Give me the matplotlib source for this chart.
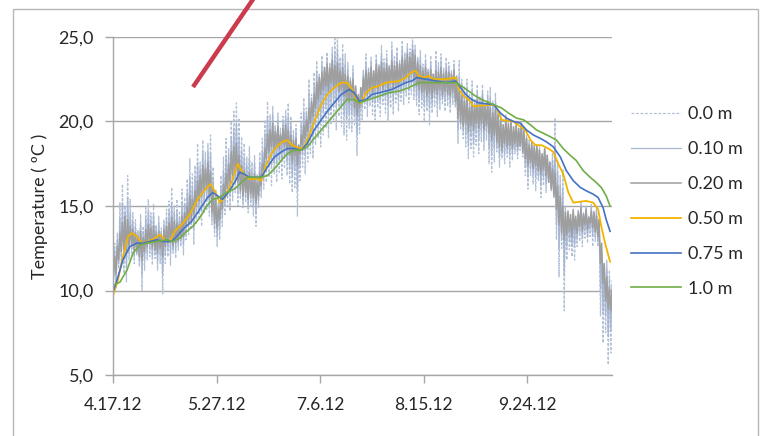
import datetime as dt
import matplotlib
matplotlib.use("Agg")
import matplotlib.pyplot as plt
from matplotlib.lines import Line2D
from matplotlib.patches import Rectangle
from matplotlib.ticker import FuncFormatter

plt.rcParams['font.family'] = ['Lato', 'DejaVu Sans']

# ---------------------------------------------------------------- data
START = "4.17.12"
tick_labels = ["4.17.12", "5.27.12", "7.6.12", "8.15.12", "9.24.12"]
y_ticks = [5, 10, 15, 20, 25]
series_names = ["0.0 m", "0.10 m", "0.20 m", "0.50 m", "0.75 m", "1.0 m"]
y_label = "Temperature ( ºC )"

# daily maxima / minima, one value per day starting 4.17.12
surf_max = [
    12.8, 13.4, 15.2, 16.3, 15.0, 16.8, 15.4, 14.6, 14.2, 13.6,
    14.5, 13.8, 14.9, 15.4, 14.6, 15.1, 13.9, 14.4, 13.7, 14.2,
    14.8, 15.3, 16.1, 15.0, 15.4, 14.7, 16.0, 15.5, 16.6, 17.8,
    16.9, 17.4, 18.7, 17.6, 18.9, 18.2, 18.7, 19.2, 17.3, 16.0,
    15.2, 16.8, 17.9, 19.0, 18.4, 20.0, 20.6, 21.1, 20.2, 19.1,
    18.7, 17.9, 18.5, 17.6, 18.0, 16.9, 18.2, 19.0, 20.1, 21.2,
    20.4, 20.9, 19.8, 20.5, 19.6, 20.3, 20.7, 21.1, 20.3, 19.5,
    19.8, 18.6, 20.5, 21.4, 20.8, 22.5, 21.6, 22.9, 23.6, 22.8,
    23.9, 23.2, 24.1, 23.5, 24.4, 24.9, 25.0, 23.8, 24.6, 24.0,
    23.5, 22.6, 23.3, 22.0, 21.4, 22.0, 23.1, 24.0, 23.2, 23.8,
    22.9, 24.0, 23.4, 24.5, 23.7, 24.2, 23.3, 24.7, 23.9, 24.4,
    23.6, 24.8, 24.1, 24.6, 24.3, 25.0, 24.5, 23.8, 24.2, 23.4,
    24.0, 23.1, 23.9, 22.8, 24.2, 23.5, 24.0, 23.2, 23.8, 23.5,
    23.0, 23.6, 22.7, 23.6, 22.5, 22.1, 22.5, 21.6, 22.4, 21.3,
    22.2, 21.5, 22.2, 21.0, 21.8, 22.0, 21.2, 21.7, 20.6, 20.4,
    19.8, 20.4, 19.6, 20.1, 19.3, 19.5, 19.0, 19.7, 18.8, 19.2,
    18.9, 18.4, 18.7, 18.2, 18.5, 17.9, 18.3, 18.0, 17.6, 18.1,
    20.2, 17.7, 16.8, 17.2, 15.0, 14.3, 13.6, 14.1, 13.8, 14.8,
    15.2, 14.6, 15.0, 14.4, 15.1, 14.7, 14.9, 14.2, 11.8, 11.4,
    11.8, 11.2, 10.6,
]
surf_min = [
    10.6, 10.2, 11.3, 11.6, 11.0, 10.5, 11.8, 12.0, 11.6, 12.1,
    11.4, 10.0, 11.2, 11.8, 12.0, 11.5, 11.9, 11.2, 11.6, 9.8,
    11.6, 12.0, 11.5, 12.2, 11.9, 12.4, 12.6, 12.1, 13.0, 13.3,
    13.6, 12.7, 13.9, 14.2, 13.8, 14.6, 14.8, 14.4, 13.9, 13.2,
    12.6, 13.0, 13.8, 14.5, 15.0, 14.7, 15.3, 15.8, 15.0, 15.4,
    14.9, 15.2, 14.6, 15.0, 14.4, 13.8, 14.9, 15.5, 16.0, 16.4,
    16.7, 16.2, 16.9, 16.4, 17.0, 16.6, 17.2, 16.8, 16.3, 15.8,
    16.1, 14.4, 16.5, 17.3, 16.9, 17.6, 18.1, 17.8, 18.6, 19.0,
    18.5, 19.2, 19.6, 19.0, 19.8, 20.1, 19.5, 20.3, 19.7, 19.2,
    18.9, 19.6, 19.4, 19.8, 18.0, 19.3, 20.1, 20.7, 20.3, 20.9,
    20.4, 20.1, 20.8, 20.3, 21.0, 20.5, 20.0, 20.8, 20.4, 21.1,
    20.6, 21.2, 21.0, 21.5, 21.1, 21.6, 21.3, 20.9, 20.4, 20.8,
    20.0, 20.6, 19.8, 20.5, 20.9, 20.3, 20.7, 21.0, 20.6, 20.9,
    20.5, 21.0, 20.8, 18.7, 19.5, 19.0, 18.5, 17.8, 18.4, 17.9,
    18.6, 18.1, 18.8, 18.3, 18.9, 17.5, 17.0, 17.6, 18.2, 17.3,
    17.8, 17.5, 17.9, 17.3, 17.7, 18.1, 17.8, 18.3, 17.9, 16.8,
    16.0, 16.8, 16.3, 15.9, 16.5, 15.5, 16.2, 15.8, 16.4, 15.9,
    15.5, 13.0, 10.8, 12.5, 8.8, 11.8, 12.4, 12.0, 11.8, 12.6,
    12.9, 12.6, 13.1, 12.8, 13.2, 12.6, 12.9, 12.6, 8.5, 6.9,
    7.5, 5.6, 6.3,
]
d010_max = [
    12.4, 13.0, 14.3, 15.2, 14.7, 15.5, 14.6, 14.1, 13.8, 13.4,
    14.0, 13.5, 14.3, 14.7, 14.2, 14.5, 13.7, 14.0, 13.5, 13.9,
    14.3, 14.7, 15.2, 14.6, 14.7, 14.3, 15.2, 15.1, 15.8, 16.7,
    16.2, 16.7, 17.6, 17.2, 18.2, 17.7, 18.2, 18.1, 16.7, 15.7,
    15.1, 16.2, 17.1, 18.0, 18.0, 19.1, 19.6, 19.9, 19.1, 18.3,
    17.9, 17.4, 17.8, 17.1, 17.5, 16.7, 17.6, 18.3, 19.3, 20.3,
    20.0, 20.4, 19.6, 20.1, 19.4, 20.0, 20.3, 20.3, 19.8, 19.2,
    19.4, 18.6, 19.9, 20.6, 20.5, 21.7, 21.4, 22.3, 23.0, 22.7,
    23.4, 23.2, 23.8, 23.4, 24.0, 24.1, 24.3, 23.4, 23.9, 23.4,
    23.1, 22.5, 22.9, 22.1, 21.5, 22.0, 22.9, 23.5, 23.1, 23.5,
    23.0, 23.7, 23.3, 24.0, 23.4, 23.8, 23.3, 24.2, 23.6, 24.0,
    23.5, 24.3, 23.9, 24.3, 24.1, 24.6, 24.2, 23.7, 23.8, 23.2,
    23.6, 23.0, 23.5, 22.8, 23.6, 23.2, 23.6, 23.0, 23.4, 23.2,
    22.9, 23.3, 22.7, 22.7, 22.0, 21.7, 22.0, 21.2, 21.8, 21.1,
    21.8, 21.3, 21.8, 21.0, 21.5, 21.4, 20.9, 21.2, 20.5, 20.3,
    19.8, 20.3, 19.8, 20.1, 19.5, 19.7, 19.3, 19.8, 19.2, 19.1,
    18.8, 18.6, 18.6, 18.4, 18.4, 18.0, 18.4, 18.0, 17.6, 17.7,
    18.6, 17.0, 16.2, 16.1, 14.8, 14.5, 14.1, 14.5, 14.1, 14.7,
    15.1, 14.6, 14.9, 14.4, 14.9, 14.7, 14.7, 14.2, 12.3, 11.5,
    11.3, 10.7, 10.3,
]
d010_min = [
    10.7, 10.6, 11.6, 12.0, 11.8, 11.4, 12.2, 12.4, 12.0, 12.2,
    11.7, 10.9, 11.8, 12.2, 12.4, 12.0, 12.2, 11.7, 12.1, 10.9,
    12.1, 12.4, 12.2, 12.4, 12.4, 12.7, 12.9, 12.7, 13.4, 13.7,
    13.9, 13.6, 14.5, 14.8, 14.7, 15.3, 15.4, 15.0, 14.3, 13.6,
    13.2, 13.6, 14.3, 15.0, 15.5, 15.6, 16.1, 16.4, 15.7, 15.7,
    15.3, 15.5, 15.0, 15.4, 15.0, 14.5, 15.3, 15.9, 16.6, 17.1,
    17.5, 17.4, 17.6, 17.5, 17.7, 17.7, 17.9, 17.6, 17.2, 16.7,
    17.1, 15.9, 17.3, 18.0, 18.0, 18.5, 19.0, 19.1, 19.7, 20.2,
    20.1, 20.6, 20.9, 20.4, 21.1, 21.1, 20.9, 21.1, 20.8, 20.4,
    20.1, 20.4, 20.4, 20.3, 19.2, 20.1, 20.8, 21.2, 21.0, 21.4,
    21.1, 21.1, 21.3, 21.2, 21.5, 21.4, 21.0, 21.6, 21.2, 21.7,
    21.4, 21.8, 21.7, 22.1, 21.8, 22.2, 21.9, 21.5, 21.2, 21.3,
    20.9, 21.1, 20.8, 21.0, 21.4, 21.0, 21.3, 21.3, 21.2, 21.3,
    21.0, 21.4, 21.0, 19.5, 19.8, 19.4, 19.2, 18.6, 19.1, 18.7,
    19.3, 18.9, 19.4, 18.9, 19.4, 18.4, 18.0, 18.4, 18.5, 17.9,
    18.1, 18.1, 18.2, 18.0, 18.1, 18.4, 18.2, 18.5, 18.1, 17.3,
    16.7, 17.2, 16.8, 16.7, 16.8, 16.2, 16.7, 16.3, 16.4, 16.0,
    15.6, 13.9, 12.4, 13.0, 10.9, 12.6, 13.0, 12.6, 12.7, 13.0,
    13.4, 13.1, 13.5, 13.2, 13.6, 13.2, 13.2, 12.9, 10.1, 8.7,
    8.5, 7.3, 7.6,
]
d020_max = [
    12.0, 12.6, 13.4, 14.0, 14.4, 14.2, 13.8, 13.6, 13.4, 13.2,
    13.5, 13.1, 13.6, 13.9, 13.7, 13.8, 13.4, 13.5, 13.3, 13.6,
    13.8, 14.0, 14.3, 14.1, 14.0, 13.9, 14.4, 14.6, 15.0, 15.6,
    15.4, 15.9, 16.5, 16.8, 17.4, 17.2, 17.6, 17.0, 16.0, 15.4,
    14.9, 15.6, 16.3, 16.9, 17.5, 18.2, 18.5, 18.7, 18.0, 17.4,
    17.1, 16.8, 17.0, 16.6, 16.9, 16.4, 16.9, 17.5, 18.4, 19.3,
    19.5, 19.9, 19.4, 19.7, 19.2, 19.6, 19.8, 19.5, 19.2, 18.9,
    19.0, 18.6, 19.2, 19.8, 20.1, 20.8, 21.2, 21.6, 22.3, 22.6,
    22.9, 23.2, 23.4, 23.2, 23.6, 23.3, 23.5, 23.0, 23.2, 22.8,
    22.7, 22.4, 22.5, 22.1, 21.6, 22.0, 22.6, 23.0, 22.9, 23.2,
    23.0, 23.4, 23.2, 23.5, 23.1, 23.4, 23.2, 23.6, 23.3, 23.5,
    23.4, 23.8, 23.6, 24.0, 23.8, 24.2, 23.9, 23.5, 23.3, 23.0,
    23.2, 22.9, 23.1, 22.8, 23.0, 22.9, 23.2, 22.8, 23.0, 22.9,
    22.8, 23.0, 22.6, 21.8, 21.5, 21.2, 21.4, 20.8, 21.2, 20.9,
    21.3, 21.0, 21.4, 20.9, 21.2, 20.8, 20.5, 20.7, 20.4, 20.1,
    19.8, 20.2, 19.9, 20.0, 19.7, 19.9, 19.6, 19.9, 19.5, 19.0,
    18.6, 18.8, 18.5, 18.6, 18.3, 18.1, 18.4, 18.0, 17.6, 17.2,
    17.0, 16.2, 15.6, 15.0, 14.6, 14.7, 14.5, 14.8, 14.4, 14.6,
    14.9, 14.5, 14.8, 14.3, 14.7, 14.6, 14.4, 14.2, 12.8, 11.6,
    10.8, 10.2, 10.0,
]
d020_min = [
    10.8, 11.0, 11.8, 12.3, 12.5, 12.2, 12.5, 12.7, 12.4, 12.3,
    12.0, 11.8, 12.3, 12.6, 12.8, 12.5, 12.4, 12.2, 12.5, 12.0,
    12.6, 12.8, 12.9, 12.6, 12.8, 12.9, 13.1, 13.2, 13.8, 14.0,
    14.2, 14.5, 15.0, 15.3, 15.6, 15.9, 16.0, 15.5, 14.6, 14.0,
    13.7, 14.2, 14.8, 15.5, 16.0, 16.4, 16.8, 17.0, 16.4, 15.9,
    15.6, 15.8, 15.4, 15.7, 15.5, 15.2, 15.6, 16.2, 17.1, 17.8,
    18.2, 18.5, 18.3, 18.6, 18.4, 18.7, 18.5, 18.3, 18.0, 17.6,
    18.0, 17.4, 18.1, 18.6, 19.0, 19.4, 19.9, 20.3, 20.8, 21.3,
    21.6, 21.9, 22.1, 21.8, 22.3, 22.0, 22.2, 21.8, 21.9, 21.5,
    21.3, 21.1, 21.4, 20.8, 20.4, 20.8, 21.4, 21.7, 21.6, 21.9,
    21.7, 22.0, 21.8, 22.1, 21.9, 22.2, 21.9, 22.3, 22.0, 22.2,
    22.1, 22.4, 22.3, 22.6, 22.4, 22.8, 22.5, 22.1, 21.9, 21.7,
    21.8, 21.5, 21.7, 21.4, 21.8, 21.6, 21.9, 21.5, 21.8, 21.6,
    21.5, 21.8, 21.2, 20.2, 20.0, 19.7, 19.9, 19.4, 19.8, 19.5,
    19.9, 19.6, 19.9, 19.5, 19.8, 19.3, 18.9, 19.2, 18.8, 18.5,
    18.3, 18.7, 18.5, 18.6, 18.4, 18.7, 18.5, 18.6, 18.2, 17.8,
    17.4, 17.6, 17.2, 17.4, 17.1, 16.9, 17.2, 16.8, 16.4, 16.0,
    15.6, 14.8, 13.9, 13.4, 13.0, 13.3, 13.5, 13.2, 13.6, 13.4,
    13.8, 13.5, 13.9, 13.6, 14.0, 13.7, 13.5, 13.2, 11.6, 10.4,
    9.4, 8.9, 8.8,
]

# deeper sensors: days since 4.17.12 and temperature
d050_days = [0, 1.9, 3.8, 5.8, 7.3, 9.2, 11.2, 13.5, 16.2, 18.1, 20.0, 21.9,
             23.8, 26.5, 29.6, 32.7, 36.2, 37.7, 39.6, 41.2, 43.1, 45.8, 48.1,
             50.4, 52.7, 55.8, 57.3, 58.8, 61.2, 63.1, 65.4, 67.3, 69.2, 71.9,
             73.8, 75.8, 78.5, 80.4, 82.7, 85.4, 88.1, 90.4, 92.3, 94.2, 95.8,
             97.7, 100.0, 102.7, 105.4, 110.4, 113.1, 115.0, 116.9, 118.1,
             120.0, 121.9, 123.8, 128.5, 132.3, 133.5, 135.4, 137.3, 139.2,
             146.9, 148.1, 150.0, 154.6, 157.3, 159.2, 161.2, 163.1, 165.4,
             168.1, 170.0, 171.9, 173.8, 175.8, 177.7, 182.7, 185.4, 187.3,
             188.5, 190.0, 191.9]
d050_temp = [9.7, 10.6, 12.0, 13.2, 13.4, 13.2, 12.8, 12.9, 13.1, 13.3, 13.0,
             12.9, 13.5, 13.9, 14.5, 15.4, 16.1, 16.3, 15.8, 15.2, 15.5, 16.4,
             17.5, 16.9, 16.6, 16.6, 16.5, 17.3, 18.1, 18.5, 18.8, 18.9, 18.6,
             18.4, 18.5, 19.2, 20.3, 21.0, 21.6, 22.0, 22.3, 22.3, 21.9, 21.2,
             21.1, 21.7, 22.0, 22.1, 22.3, 22.4, 22.6, 22.9, 23.0, 22.7, 22.6,
             22.7, 22.5, 22.5, 22.6, 21.9, 21.5, 21.3, 20.9, 21.0, 20.8, 20.1,
             20.0, 19.7, 19.5, 18.9, 18.6, 18.6, 18.4, 18.2, 17.5, 16.9, 15.8,
             15.2, 15.3, 15.2, 14.8, 13.8, 12.8, 11.7]
d075_days = [0, 1.9, 3.8, 6.5, 9.2, 11.5, 14.2, 16.9, 19.2, 22.7, 24.6, 26.9,
             30.4, 33.5, 36.5, 38.5, 40.4, 42.3, 45.0, 47.7, 48.8, 50.4, 52.7,
             57.3, 59.6, 62.3, 65.0, 67.3, 70.0, 72.7, 75.0, 77.7, 80.4, 82.7,
             85.4, 88.1, 91.2, 93.1, 95.0, 97.7, 100.0, 102.7, 105.4, 107.7,
             110.4, 113.1, 115.4, 117.3, 120.8, 124.6, 128.5, 132.3, 134.2,
             136.2, 138.5, 141.2, 146.9, 149.6, 151.9, 154.6, 157.3, 159.6,
             162.3, 165.0, 167.3, 170.0, 172.7, 175.0, 177.7, 180.4, 182.7,
             185.4, 187.3, 189.2, 190.4, 191.9]
d075_temp = [9.9, 10.8, 11.8, 12.6, 12.8, 12.8, 12.9, 13.0, 12.9, 12.9, 13.2,
             13.6, 14.1, 14.8, 15.5, 15.8, 15.6, 15.4, 15.9, 16.6, 17.0, 16.9,
             16.7, 16.7, 17.3, 17.9, 18.2, 18.4, 18.4, 18.3, 18.7, 19.5, 20.1,
             20.6, 21.1, 21.6, 21.9, 21.7, 21.2, 21.3, 21.6, 21.7, 21.8, 21.9,
             22.1, 22.3, 22.4, 22.6, 22.5, 22.4, 22.3, 22.4, 22.0, 21.6, 21.3,
             21.1, 21.0, 20.5, 20.2, 20.0, 19.9, 19.5, 19.2, 19.0, 18.8, 18.5,
             17.9, 17.1, 16.5, 16.1, 15.9, 15.7, 15.5, 14.9, 14.2, 13.5]
d100_days = [0, 2.7, 5.4, 7.7, 10.4, 13.1, 16.9, 20.8, 23.1, 25.8, 28.5, 30.8,
             33.5, 36.2, 38.5, 41.2, 43.8, 46.9, 49.6, 51.9, 57.3, 59.6, 62.3,
             65.0, 67.3, 70.0, 72.7, 75.0, 77.7, 80.4, 82.7, 85.4, 88.1, 90.4,
             93.1, 95.0, 98.8, 102.7, 106.5, 110.4, 114.2, 118.1, 132.3, 134.6,
             137.3, 140.0, 142.3, 146.9, 150.0, 152.7, 155.8, 158.5, 161.2,
             163.5, 166.2, 168.8, 171.2, 173.8, 176.5, 178.8, 181.5, 184.2,
             186.5, 188.5, 190.4, 191.9]
d100_temp = [10.3, 10.5, 11.2, 12.2, 12.7, 12.8, 12.9, 13.0, 12.9, 13.1, 13.5,
             13.8, 14.3, 15.0, 15.4, 15.5, 15.8, 16.0, 16.4, 16.7, 16.7, 16.8,
             17.2, 17.7, 18.1, 18.3, 18.3, 18.5, 19.0, 19.5, 19.9, 20.4, 20.9,
             21.3, 21.3, 21.1, 21.3, 21.5, 21.7, 21.8, 22.0, 22.3, 22.3, 22.1,
             21.8, 21.5, 21.3, 21.0, 20.8, 20.5, 20.2, 20.1, 19.8, 19.5, 19.3,
             19.1, 18.9, 18.4, 18.0, 17.7, 17.1, 16.7, 16.4, 16.1, 15.6, 15.0]

# ---------------------------------------------------------------- helpers
start = dt.datetime.strptime(START, "%m.%d.%y")


def daily_trace(lows, highs):
    """Interleave daily minimum (early morning) and maximum (afternoon)."""
    t, v = [], []
    for i, (lo, hi) in enumerate(zip(lows, highs)):
        t += [start + dt.timedelta(days=i + 0.2), start + dt.timedelta(days=i + 0.65)]
        v += [lo, hi]
    return t, v


def to_dates(days):
    return [start + dt.timedelta(days=d) for d in days]


# ---------------------------------------------------------------- figure
W, H = 762, 436
fig = plt.figure(figsize=(W / 100, H / 100), dpi=100)
ax = fig.add_axes([113 / W, 1 - 375 / H, (612 - 113) / W, (375 - 37) / H])

colors = ["#b3c1d7", "#a7b6d2", "#9e9e9e", "#f2b400", "#4472c4", "#70ad47"]

t0, v0 = daily_trace(surf_min, surf_max)
t1, v1 = daily_trace(d010_min, d010_max)
t2, v2 = daily_trace(d020_min, d020_max)

ax.plot(t0, v0, color=colors[0], lw=0.9, dashes=(2.2, 1.4), label=series_names[0])
ax.plot(t1, v1, color=colors[1], lw=0.9, label=series_names[1])
ax.plot(t2, v2, color=colors[2], lw=1.1, label=series_names[2])
ax.plot(to_dates(d050_days), d050_temp, color=colors[3], lw=1.3, label=series_names[3])
ax.plot(to_dates(d075_days), d075_temp, color=colors[4], lw=1.2, label=series_names[4])
ax.plot(to_dates(d100_days), d100_temp, color=colors[5], lw=1.2, label=series_names[5])

# axes
ax.set_ylim(y_ticks[0], y_ticks[-1])
ax.set_yticks(y_ticks)
ax.yaxis.set_major_formatter(FuncFormatter(lambda v, p: f"{v:.1f}".replace(".", ",")))
ax.set_xlim(start, t0[-1])
ax.set_xticks([dt.datetime.strptime(s, "%m.%d.%y") for s in tick_labels])
ax.set_xticklabels(tick_labels)

grid_c = "#a6a6a6"
ax.grid(axis="y", color=grid_c, lw=1.0)
ax.set_axisbelow(True)
for side in ("top", "right"):
    ax.spines[side].set_visible(False)
for side in ("left", "bottom"):
    ax.spines[side].set_color(grid_c)
    ax.spines[side].set_linewidth(1.0)
ax.tick_params(axis="x", direction="out", length=6, width=1.0, color=grid_c,
               labelsize=12.5, pad=10, labelcolor="#262626")
ax.tick_params(axis="y", direction="out", length=6, width=1.0, color=grid_c,
               labelsize=13, pad=8, labelcolor="#262626")
ax.set_ylabel(y_label, fontsize=13, color="#262626", labelpad=7)

leg = ax.legend(loc="upper left", bbox_to_anchor=(631 / W, 1 - 106 / H),
                bbox_transform=fig.transFigure, frameon=False, fontsize=13,
                handlelength=2.75, handletextpad=0.4, labelspacing=1.05,
                borderaxespad=0, borderpad=0)
for txt in leg.get_texts():
    txt.set_color("#262626")

# outer chart frame
fig.add_artist(Rectangle((13 / W, -0.05), (758 - 13) / W, 1.05 - 9 / H,
                         transform=fig.transFigure, fill=False,
                         edgecolor="#b7b7b7", lw=1.0))

# red pointer line crossing the top of the chart
fig.add_artist(Line2D([193 / W, 258 / W], [1 - 87 / H, 1 + 8 / H],
                      transform=fig.transFigure, color="#cc3a4d", lw=3.2,
                      solid_capstyle="butt"))

fig.savefig("out.png", dpi=100)
